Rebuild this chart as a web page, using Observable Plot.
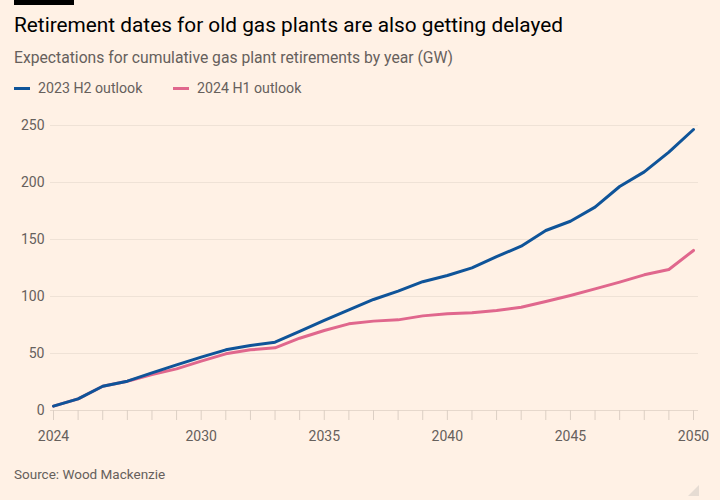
<!DOCTYPE html>
<html>
<head>
<meta charset="utf-8">
<script src="https://cdn.jsdelivr.net/npm/d3@7"></script>
<script src="https://cdn.jsdelivr.net/npm/@observablehq/plot@0.6"></script>
<style>
  html, body { margin: 0; padding: 0; }
  body { width: 720px; height: 500px; background: #FFF1E5; position: relative; overflow: hidden; font-family: Roboto, "Noto Sans", sans-serif; }
  .abs { position: absolute; white-space: nowrap; }
  #bar { left: 14px; top: 0; width: 60px; height: 5px; background: #000; }
  #title { left: 14px; top: 14.5px; font-size: 20.8px; line-height: 1; color: #000; }
  #subtitle { left: 14px; top: 49.5px; font-size: 15.7px; line-height: 1; color: #66605C; }
  .leg { top: 81.2px; font-size: 14.2px; line-height: 1; color: #66605C; }
  .sw { position: absolute; top: 86.5px; width: 16px; height: 3px; }
  #source { left: 14px; top: 467.6px; font-size: 13.5px; line-height: 1; color: #66605C; }
  #chart { position: absolute; left: 0; top: 100px; }
  #corner { position: absolute; left: 688px; top: 485px; width: 0; height: 0; border-left: 11px solid transparent; border-bottom: 11px solid #E6DCD3; }
</style>
</head>
<body>
<div id="bar" class="abs"></div>
<div id="title" class="abs">Retirement dates for old gas plants are also getting delayed</div>
<div id="subtitle" class="abs">Expectations for cumulative gas plant retirements by year (GW)</div>
<div class="sw" style="left:14px;background:#0F5499"></div>
<div class="abs leg" style="left:38px">2023 H2 outlook</div>
<div class="sw" style="left:173px;background:#E0678D"></div>
<div class="abs leg" style="left:197px">2024 H1 outlook</div>
<div id="chart"></div>
<div id="source" class="abs">Source: Wood Mackenzie</div>
<div id="corner"></div>
<script>
const years = [2024, 2025, 2026, 2027, 2028, 2029, 2030, 2031, 2032, 2033, 2034, 2035, 2036, 2037, 2038, 2039, 2040, 2041, 2042, 2043, 2044, 2045, 2046, 2047, 2048, 2049, 2050];
const outlook2023H2 = [3.8, 10.2, 21.3, 25.7, 33, 40, 46.8, 53.2, 57, 59.9, 69.3, 79, 88.3, 97.4, 104.7, 113, 118.4, 125.1, 135, 144.1, 157.9, 166, 178.4, 196.5, 209.3, 226.6, 246.5];
const outlook2024H1 = [3.8, 10.2, 21.3, 25.7, 31.6, 36.5, 43.3, 49.7, 53.2, 55, 63.4, 70.2, 76, 78.4, 79.5, 83, 84.8, 85.7, 87.7, 90.6, 95.6, 100.9, 106.7, 112.6, 119, 123.7, 140.4];
const seriesNames = ["2023 H2 outlook", "2024 H1 outlook"];
const yTicks = [0, 50, 100, 150, 200, 250];
const xLabelYears = [2024, 2030, 2035, 2040, 2045, 2050];

const dataH2 = years.map((y, i) => ({year: y, value: outlook2023H2[i], series: seriesNames[0]}));
const dataH1 = years.map((y, i) => ({year: y, value: outlook2024H1[i], series: seriesNames[1]}));

const chart = Plot.plot({
  width: 720,
  height: 360,
  marginTop: 25,
  marginBottom: 50,
  marginLeft: 53,
  marginRight: 27,
  style: {background: "transparent", fontFamily: "Roboto, 'Noto Sans', sans-serif", fontSize: "14px", overflow: "visible"},
  x: {domain: [2024, 2050]},
  y: {domain: [0, 250]},
  marks: [
    Plot.ruleY(yTicks.filter(d => d > 0), {stroke: "#EFE2D6", strokeWidth: 1, insetLeft: -3, insetRight: -5}),
    Plot.ruleY([0], {stroke: "#E6D8CC", strokeWidth: 1, insetLeft: -3, insetRight: -5}),
    Plot.axisX(years, {tickSize: 10, tickFormat: () => "", stroke: "#DCCFC4", label: null}),
    Plot.axisX(xLabelYears, {tickSize: 0, tickPadding: 21, tickFormat: d => String(d), fill: "#66605C", fontSize: 14, label: null}),
    Plot.axisY(yTicks, {tickSize: 0, tickPadding: 9, fill: "#66605C", fontSize: 14, label: null}),
    Plot.lineY(dataH1, {x: "year", y: "value", stroke: "#E0678D", strokeWidth: 3, strokeLinejoin: "round"}),
    Plot.lineY(dataH2, {x: "year", y: "value", stroke: "#0F5499", strokeWidth: 3, strokeLinejoin: "round"})
  ]
});
document.getElementById("chart").appendChild(chart);
</script>
</body>
</html>
